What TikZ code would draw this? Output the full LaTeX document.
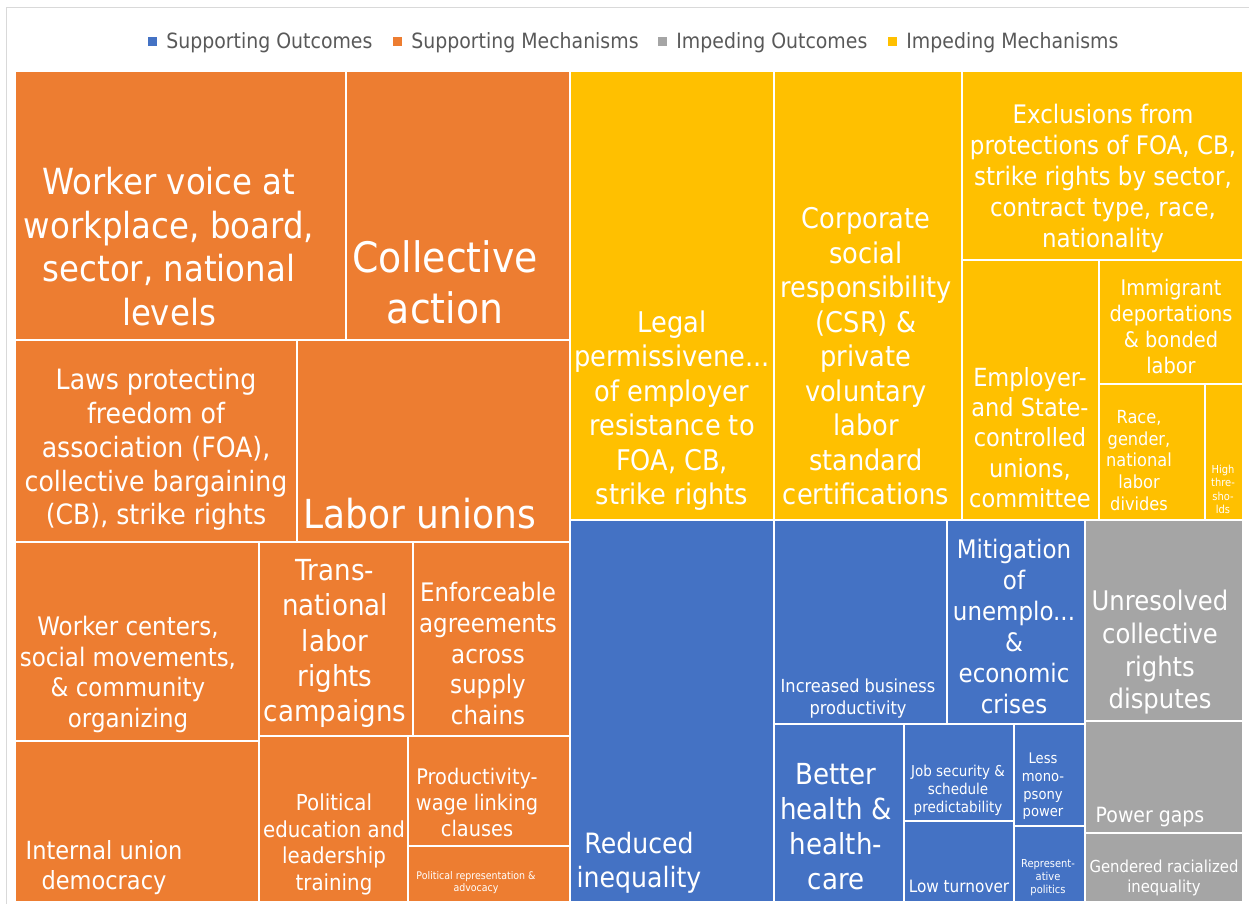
\documentclass[tikz,border=0pt]{standalone}
\usepackage{fontspec}
\setmainfont[FakeStretch=0.9]{DejaVu Sans}
\usepackage{tikz}
\usetikzlibrary{positioning}

\definecolor{supout}{HTML}{4472C4}
\definecolor{supmech}{HTML}{ED7D31}
\definecolor{impout}{HTML}{A5A5A5}
\definecolor{impmech}{HTML}{FFC000}
\definecolor{legendtext}{HTML}{595959}
\definecolor{chartframe}{HTML}{D9D9D9}
\newcommand{\tmfont}[1]{\fontsize{#1pt}{\dimexpr #1pt*121/100\relax}\selectfont}

\begin{document}
\begin{tikzpicture}[x=1pt,y=-1pt,lbl/.style={text=white,align=center,inner sep=0pt,yshift=-2.5pt},legsq/.style={minimum size=9pt,inner sep=0pt},legtxt/.style={text=legendtext,anchor=west,inner sep=0pt,yshift=-2pt,font=\tmfont{21}}]
  \useasboundingbox[fill=white] (0,0) rectangle (1249,903);
  %frame
  \draw[chartframe,line width=1pt] (6,910) -- (6,7) -- (1260,7);
  %legend
  \node[legsq,fill=supout] (sqso) at (152.5,41) {};
  \node[legtxt,right=9pt of sqso.east] (txso) {Supporting Outcomes};
  \node[legsq,fill=supmech] (sqsm) at (397.5,41) {};
  \node[legtxt,right=9pt of sqsm.east] (txsm) {Supporting Mechanisms};
  \node[legsq,fill=impout] (sqio) at (662.5,41) {};
  \node[legtxt,right=9pt of sqio.east] (txio) {Impeding Outcomes};
  \node[legsq,fill=impmech] (sqim) at (892.5,41) {};
  \node[legtxt,right=9pt of sqim.east] (txim) {Impeding Mechanisms};

  %supporting mechanisms
  \fill[supmech] (16,72) rectangle (345,339);
  \node[lbl,font=\tmfont{36}] (voice) at (169,244) {Worker voice at\\workplace, board,\\sector, national\\levels};
  \fill[supmech] (347,72) rectangle (569,339);
  \node[lbl,font=\tmfont{42}] (collective) at (445,280) {Collective\\action};
  \fill[supmech] (16,341) rectangle (296,541);
  \node[lbl,font=\tmfont{28}] (laws) at (156,447) {Laws protecting\\freedom of\\association (FOA),\\collective bargaining\\(CB), strike rights};
  \fill[supmech] (298,341) rectangle (569,541);
  \node[lbl,font=\tmfont{40}] (unions) at (420,511) {Labor unions};
  \fill[supmech] (16,543) rectangle (258,740);
  \node[lbl,font=\tmfont{25.5}] (centers) at (128,672) {Worker centers,\\social movements,\\\& community\\organizing};
  \fill[supmech] (260,543) rectangle (412,735);
  \node[lbl,font=\tmfont{29}] (transnat) at (335,641) {Trans-\\national\\labor\\rights\\campaigns};
  \fill[supmech] (414,543) rectangle (569,735);
  \node[lbl,font=\tmfont{25.5}] (enforce) at (488,651) {Enforceable\\agreements\\across\\supply\\chains};
  \fill[supmech] (16,742) rectangle (258,901);
  \node[lbl,font=\tmfont{25}] (internal) at (104,865) {Internal union\\democracy};
  \fill[supmech] (260,737) rectangle (407,901);
  \node[lbl,font=\tmfont{22}] (poled) at (334,842) {Political\\education and\\leadership\\training};
  \fill[supmech] (409,737) rectangle (569,845);
  \node[lbl,font=\tmfont{21.5}] (prodwage) at (477,800) {Productivity-\\wage linking\\clauses};
  \fill[supmech] (409,847) rectangle (569,901);
  \node[lbl,font=\tmfont{10.5}] (polrep) at (476,880) {Political representation \&\\advocacy};

  %impeding mechanisms
  \fill[impmech] (571,72) rectangle (773,519);
  \node[lbl,font=\tmfont{28.5}] (legal) at (672,408) {Legal\\permissivene...\\of employer\\resistance to\\FOA, CB,\\strike rights};
  \fill[impmech] (775,72) rectangle (961,519);
  \node[lbl,font=\tmfont{28.5}] (csr) at (866,354) {Corporate\\social\\responsibility\\(CSR) \&\\private\\voluntary\\labor\\standard\\certifications};
  \fill[impmech] (963,72) rectangle (1242,259);
  \node[lbl,font=\tmfont{25.5}] (exclusions) at (1103,176) {Exclusions from\\protections of FOA, CB,\\strike rights by sector,\\contract type, race,\\nationality};
  \fill[impmech] (963,261) rectangle (1098,519);
  \node[lbl,font=\tmfont{25}] (employer) at (1030,435) {Employer-\\and State-\\controlled\\unions,\\committee};
  \fill[impmech] (1100,261) rectangle (1242,383);
  \node[lbl,font=\tmfont{21.5}] (immigrant) at (1171,324) {Immigrant\\deportations\\\& bonded\\labor};
  \fill[impmech] (1100,385) rectangle (1204,519);
  \node[lbl,font=\tmfont{18}] (race) at (1139,458) {Race,\\gender,\\national\\labor\\divides};
  \fill[impmech] (1206,385) rectangle (1242,519);
  \node[lbl,font=\tmfont{11}] (thresholds) at (1223,487) {High\\thre-\\sho-\\lds};

  %supporting outcomes
  \fill[supout] (571,521) rectangle (773,901);
  \node[lbl,font=\tmfont{28}] (reduced) at (639,860) {Reduced\\inequality};
  \fill[supout] (775,521) rectangle (946,723);
  \node[lbl,font=\tmfont{18}] (business) at (858,696) {Increased business\\productivity};
  \fill[supout] (948,521) rectangle (1084,723);
  \node[lbl,font=\tmfont{25.5}] (mitigation) at (1014,624) {Mitigation\\of\\unemplo...\\\&\\economic\\crises};
  \fill[supout] (775,725) rectangle (903,901);
  \node[lbl,font=\tmfont{29}] (health) at (836,824) {Better\\health \&\\health-\\care};
  \fill[supout] (905,725) rectangle (1013,820);
  \node[lbl,font=\tmfont{15}] (jobsec) at (958,788) {Job security \&\\schedule\\predictability};
  \fill[supout] (905,822) rectangle (1013,901);
  \node[lbl,font=\tmfont{17}] (turnover) at (959,884) {Low turnover};
  \fill[supout] (1015,725) rectangle (1084,825);
  \node[lbl,font=\tmfont{14.6}] (monopsony) at (1043,784) {Less\\mono-\\psony\\power};
  \fill[supout] (1015,827) rectangle (1084,901);
  \node[lbl,font=\tmfont{11}] (reppol) at (1048,875) {Represent-\\ative\\politics};

  %impeding outcomes
  \fill[impout] (1086,521) rectangle (1242,720);
  \node[lbl,font=\tmfont{27}] (unresolved) at (1160,650) {Unresolved\\collective\\rights\\disputes};
  \fill[impout] (1086,722) rectangle (1242,832);
  \node[lbl,font=\tmfont{21}] (gaps) at (1150,815) {Power gaps};
  \fill[impout] (1086,834) rectangle (1242,901);
  \node[lbl,font=\tmfont{16.5}] (gendered) at (1164,875) {Gendered racialized\\inequality};
\end{tikzpicture}
\end{document}
